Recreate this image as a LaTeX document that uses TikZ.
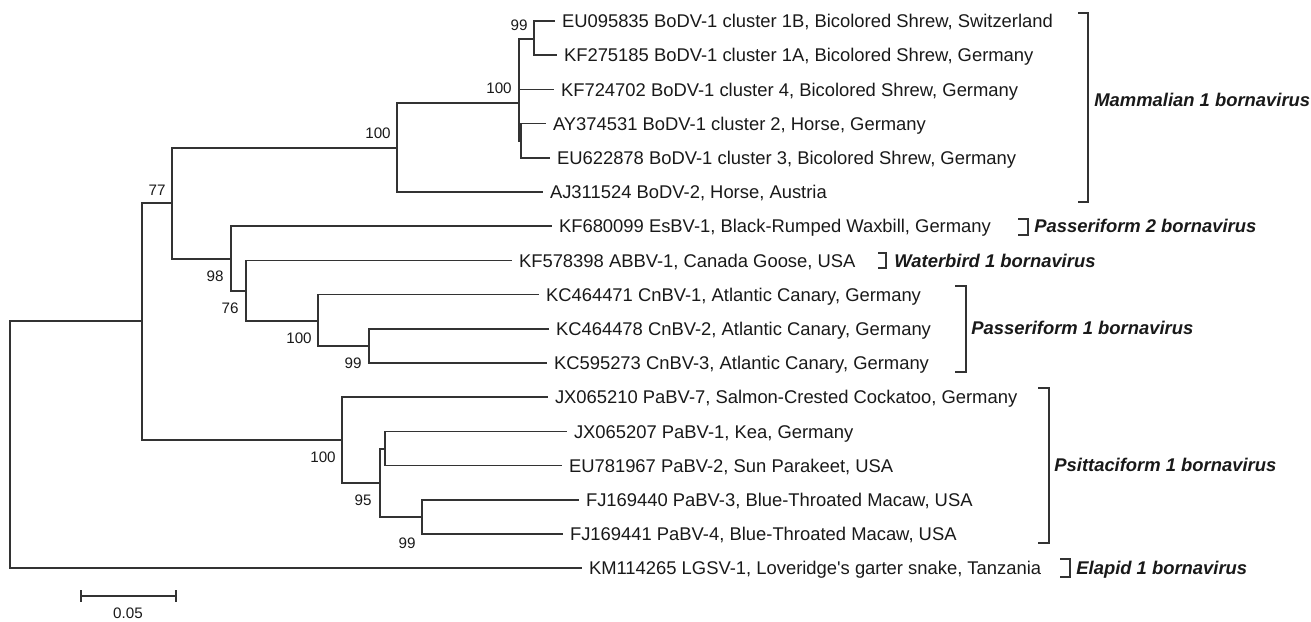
\documentclass[tikz,border=0pt]{standalone}
\usepackage{fontspec}
\setmainfont{Liberation Sans}
\usetikzlibrary{calc}

\begin{document}
\begin{tikzpicture}[
    x=0.5pt, y=-0.5pt,
    line join=miter,
    branch/.style={draw=black!80, line width=0.75pt},
    bracket/.style={draw=black!80, line width=0.75pt},
    leaf/.style={anchor=west, inner xsep=3.3pt, inner ysep=0pt, text height=6.6pt, text depth=0pt,
        font=\fontsize{9.2}{11}\selectfont, text=black!90},
    boot/.style={inner sep=0pt, text height=5.4pt, text depth=0pt,
        font=\fontsize{7.6}{9}\selectfont, text=black!90},
    clade/.style={anchor=west, inner sep=0pt, text height=6.6pt, text depth=0pt,
        font=\fontsize{9.2}{11}\selectfont\bfseries\itshape, text=black!90}
]
\useasboundingbox (0,0) rectangle (1311,621);

% Leaves (tip x, one row every 34.2 px)
\foreach \n/\tx/\lab [count=\i from 0] in {
    eu095835/555/{EU095835 BoDV-1 cluster 1B, Bicolored Shrew, Switzerland},
    kf275185/557/{KF275185 BoDV-1 cluster 1A, Bicolored Shrew, Germany},
    kf724702/554/{KF724702 BoDV-1 cluster 4, Bicolored Shrew, Germany},
    ay374531/546/{AY374531 BoDV-1 cluster 2, Horse, Germany},
    eu622878/550/{EU622878 BoDV-1 cluster 3, Bicolored Shrew, Germany},
    aj311524/543/{AJ311524 BoDV-2, Horse, Austria},
    kf680099/552/{KF680099 EsBV-1, Black-Rumped Waxbill, Germany},
    kf578398/512/{KF578398 ABBV-1, Canada Goose, USA},
    kc464471/539/{KC464471 CnBV-1, Atlantic Canary, Germany},
    kc464478/549/{KC464478 CnBV-2, Atlantic Canary, Germany},
    kc595273/547/{KC595273 CnBV-3, Atlantic Canary, Germany},
    jx065210/548/{JX065210 PaBV-7, Salmon-Crested Cockatoo, Germany},
    jx065207/567/{JX065207 PaBV-1, Kea, Germany},
    eu781967/562/{EU781967 PaBV-2, Sun Parakeet, USA},
    fj169440/579/{FJ169440 PaBV-3, Blue-Throated Macaw, USA},
    fj169441/563/{FJ169441 PaBV-4, Blue-Throated Macaw, USA},
    km114265/582/{KM114265 LGSV-1, Loveridge\textquotesingle s garter snake, Tanzania}}{
  \node[leaf] (\n) at (\tx, {21+34.2*\i}) {\lab};
}

% Internal nodes
\coordinate (root) at (10,445);
\coordinate (ingroup) at (142,321);
\coordinate (n77) at (172,203);
\coordinate (mam) at (397,148);
\coordinate (bodv) at (519,103);
\coordinate (bodv2) at (521,141);
\coordinate (b99) at (534,39);
\coordinate (n98) at (231,259);
\coordinate (n76) at (246,291);
\coordinate (pas) at (318,321);
\coordinate (c99) at (369,346);
\coordinate (psit) at (342,440);
\coordinate (n95) at (380,483);
\coordinate (pk) at (385,449);
\coordinate (f99) at (422,517);

% Branches
\draw[branch] (root) |- (ingroup);
\draw[branch] (root) |- (km114265.west);
\draw[branch] (ingroup) |- (n77);
\draw[branch] (ingroup) |- (psit);
\draw[branch] (n77) |- (mam);
\draw[branch] (n77) |- (n98);
\draw[branch] (mam) |- (bodv);
\draw[branch] (mam) |- (aj311524.west);
\draw[branch] (bodv) |- (b99);
\draw[branch] (bodv) |- (kf724702.west);
\draw[branch] (bodv) |- (bodv2);
\draw[branch] (bodv2) |- (ay374531.west);
\draw[branch] (bodv2) |- (eu622878.west);
\draw[branch] (b99) |- (eu095835.west);
\draw[branch] (b99) |- (kf275185.west);
\draw[branch] (n98) |- (kf680099.west);
\draw[branch] (n98) |- (n76);
\draw[branch] (n76) |- (kf578398.west);
\draw[branch] (n76) |- (pas);
\draw[branch] (pas) |- (kc464471.west);
\draw[branch] (pas) |- (c99);
\draw[branch] (c99) |- (kc464478.west);
\draw[branch] (c99) |- (kc595273.west);
\draw[branch] (psit) |- (jx065210.west);
\draw[branch] (psit) |- (n95);
\draw[branch] (n95) |- (pk);
\draw[branch] (n95) |- (f99);
\draw[branch] (pk) |- (jx065207.west);
\draw[branch] (pk) |- (eu781967.west);
\draw[branch] (f99) |- (fj169440.west);
\draw[branch] (f99) |- (fj169441.west);

% Bootstrap values
\node[boot] (bs99a) at (519,25) {99};
\node[boot] (bs100a) at (499,88) {100};
\node[boot] (bs100b) at (378,133) {100};
\node[boot] (bs77) at (157,190) {77};
\node[boot] (bs98) at (215,276) {98};
\node[boot] (bs76) at (230,308) {76};
\node[boot] (bs100c) at (299,338) {100};
\node[boot] (bs99b) at (353,363) {99};
\node[boot] (bs100d) at (323,457) {100};
\node[boot] (bs95) at (363,500) {95};
\node[boot] (bs99c) at (407,543) {99};

% Clade brackets
\draw[bracket] (1078,13) -| (1088,202) -- (1078,202);
\node[clade] (mammal1) at (1094,100) {Mammalian 1 bornavirus};
\draw[bracket] (1018,219) -| (1028,235) -- (1018,235);
\node[clade] (passer2) at (1034,226) {Passeriform 2 bornavirus};
\draw[bracket] (878,253) -| (886,268) -- (878,268);
\node[clade] (water1) at (894,261) {Waterbird 1 bornavirus};
\draw[bracket] (955,286) -| (966,372) -- (955,372);
\node[clade] (passer1) at (971,328) {Passeriform 1 bornavirus};
\draw[bracket] (1038,388) -| (1049,543) -- (1038,543);
\node[clade] (psitta1) at (1054,465) {Psittaciform 1 bornavirus};
\draw[bracket] (1060,559) -| (1070,577) -- (1060,577);
\node[clade] (elapid1) at (1076,568) {Elapid 1 bornavirus};

% Scale bar
\coordinate (sbl) at (81,596);
\coordinate (sbr) at (176,596);
\draw[branch] (sbl) -- (sbr);
\draw[branch] ($(sbl)+(0,-6)$) -- ($(sbl)+(0,6)$);
\draw[branch] ($(sbr)+(0,-6)$) -- ($(sbr)+(0,6)$);
\node[boot] (scale) at (128,613) {0.05};

\end{tikzpicture}
\end{document}
